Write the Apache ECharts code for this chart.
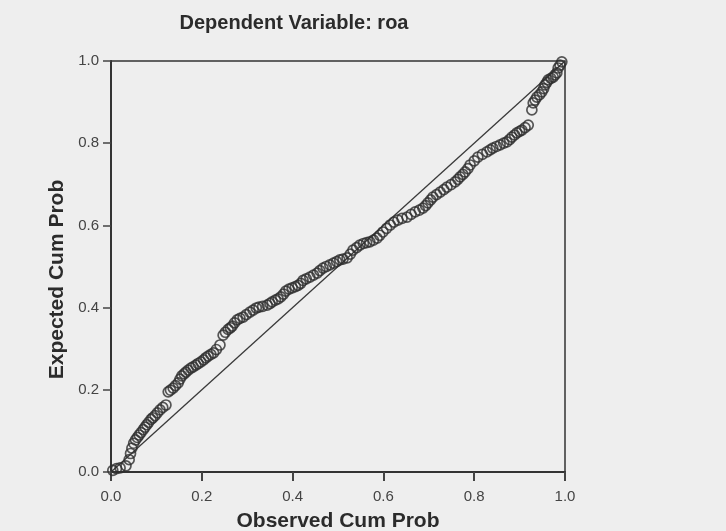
<!DOCTYPE html>
<html>
<head>
<meta charset="utf-8">
<script src="https://cdn.jsdelivr.net/npm/echarts@6/dist/echarts.min.js"></script>
<style>
html,body{margin:0;padding:0;background:#eeeeee;}
#c{width:726px;height:531px;}
</style>
</head>
<body>
<div id="c"></div>
<script>
const chartTitle = "Dependent Variable: roa";
const xAxisName = "Observed Cum Prob";
const yAxisName = "Expected Cum Prob";
const tickValues = [0, 0.2, 0.4, 0.6, 0.8, 1.0];

const observed = [0.004,0.012,0.020,0.033,0.040,0.043,0.046,0.050,0.054,0.058,0.062,0.066,0.071,0.075,0.079,0.083,0.088,0.092,0.097,0.102,0.108,0.114,0.121,0.126,0.131,0.137,0.142,0.148,0.152,0.156,0.161,0.165,0.170,0.176,0.181,0.187,0.192,0.198,0.204,0.209,0.214,0.220,0.226,0.232,0.240,0.247,0.252,0.258,0.263,0.267,0.272,0.278,0.284,0.291,0.298,0.306,0.313,0.320,0.326,0.334,0.344,0.350,0.355,0.362,0.368,0.374,0.380,0.385,0.392,0.399,0.406,0.412,0.418,0.423,0.430,0.438,0.446,0.454,0.460,0.467,0.474,0.482,0.490,0.497,0.504,0.511,0.520,0.527,0.533,0.541,0.548,0.556,0.563,0.570,0.578,0.586,0.592,0.599,0.607,0.615,0.623,0.632,0.641,0.652,0.661,0.670,0.679,0.687,0.693,0.698,0.704,0.709,0.717,0.725,0.733,0.740,0.749,0.758,0.764,0.769,0.775,0.780,0.786,0.791,0.800,0.808,0.818,0.828,0.835,0.841,0.849,0.857,0.865,0.872,0.878,0.883,0.889,0.894,0.900,0.905,0.912,0.919,0.927,0.930,0.934,0.938,0.944,0.949,0.953,0.956,0.960,0.963,0.969,0.974,0.978,0.982,0.985,0.989,0.993];
const expected = [0.004,0.008,0.010,0.015,0.030,0.045,0.058,0.070,0.078,0.084,0.090,0.096,0.103,0.109,0.115,0.121,0.128,0.132,0.137,0.144,0.151,0.157,0.163,0.195,0.199,0.204,0.210,0.217,0.226,0.234,0.239,0.243,0.248,0.253,0.256,0.260,0.264,0.268,0.273,0.278,0.282,0.286,0.290,0.298,0.309,0.333,0.340,0.347,0.351,0.355,0.363,0.370,0.374,0.377,0.383,0.389,0.394,0.399,0.401,0.403,0.406,0.410,0.414,0.418,0.421,0.426,0.433,0.440,0.445,0.448,0.451,0.454,0.459,0.466,0.470,0.474,0.479,0.484,0.490,0.496,0.500,0.504,0.508,0.512,0.516,0.518,0.521,0.530,0.540,0.546,0.552,0.556,0.558,0.560,0.564,0.569,0.576,0.584,0.593,0.601,0.608,0.613,0.617,0.620,0.627,0.633,0.637,0.642,0.648,0.655,0.662,0.669,0.675,0.681,0.687,0.693,0.699,0.706,0.712,0.718,0.724,0.730,0.738,0.747,0.757,0.766,0.773,0.779,0.784,0.788,0.792,0.796,0.800,0.803,0.809,0.815,0.820,0.825,0.829,0.832,0.838,0.844,0.881,0.898,0.905,0.912,0.918,0.925,0.933,0.942,0.948,0.954,0.958,0.961,0.966,0.971,0.983,0.990,0.998];
const refLine = [[0, 0], [1, 1]];

const points = observed.map((x, i) => [x, expected[i]]);
const FONT = "Arial, 'Liberation Sans', sans-serif";

const chart = echarts.init(document.getElementById('c'), null, {renderer: 'canvas'});
chart.setOption({
  backgroundColor: '#eeeeee',
  animation: false,
  title: {
    text: chartTitle,
    left: 289, top: 8, textAlign: 'center',
    textStyle: {fontFamily: FONT, fontWeight: 'bold', fontSize: 20, color: '#2b2b2b'}
  },
  grid: {left: 111, right: 161, top: 61, bottom: 59, show: true, borderColor: '#333', borderWidth: 1.5, backgroundColor: 'transparent', containLabel: false, outerBoundsMode: 'none'},
  xAxis: {
    type: 'value', min: 0, max: 1, interval: 0.2,
    name: xAxisName, nameLocation: 'middle', nameGap: 39,
    nameTextStyle: {fontFamily: FONT, fontWeight: 'bold', fontSize: 21, color: '#2b2b2b'},
    axisLine: {show: true, lineStyle: {color: '#333', width: 2}},
    axisTick: {show: true, length: 9, lineStyle: {color: '#444', width: 2}},
    axisLabel: {fontFamily: FONT, fontSize: 15, color: '#444', margin: 17, formatter: v => v.toFixed(1)},
    splitLine: {show: false}
  },
  yAxis: {
    type: 'value', min: 0, max: 1, interval: 0.2,
    name: yAxisName, nameLocation: 'middle', nameGap: 38, nameRotate: 90,
    nameTextStyle: {fontFamily: FONT, fontWeight: 'bold', fontSize: 21, color: '#2b2b2b', padding: [0, 26, 0, 0]},
    axisLine: {show: true, lineStyle: {color: '#333', width: 2}},
    axisTick: {show: true, length: 8, lineStyle: {color: '#444', width: 1.5}},
    axisLabel: {fontFamily: FONT, fontSize: 15, color: '#444', margin: 12, formatter: v => v.toFixed(1)},
    splitLine: {show: false}
  },
  series: [
    {
      type: 'line', data: refLine, symbol: 'none', silent: true,
      lineStyle: {color: '#3a3a3a', width: 1.3}, z: 1
    },
    {
      type: 'scatter', data: points, symbol: 'circle', symbolSize: 10,
      itemStyle: {color: 'rgba(0,0,0,0)', borderColor: '#2e2e2e', borderWidth: 1.7}, z: 2
    }
  ]
});
</script>
</body>
</html>
